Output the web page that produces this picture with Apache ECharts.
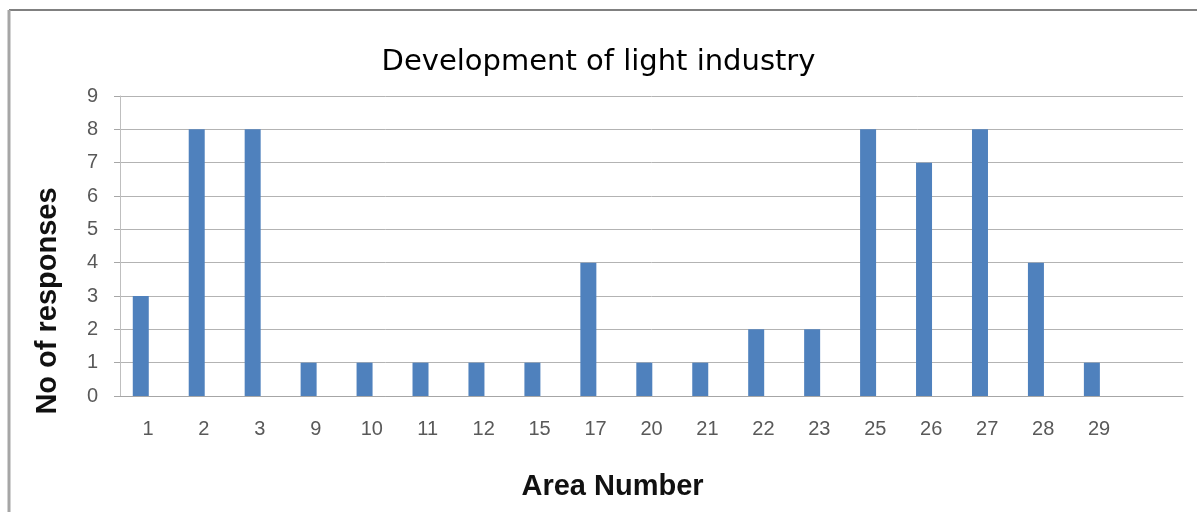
<!DOCTYPE html>
<html>
<head>
<meta charset="utf-8">
<script src="https://cdn.jsdelivr.net/npm/echarts@6/dist/echarts.min.js"></script>
<style>
html,body{margin:0;padding:0;background:#fff;}
#chart{width:1197px;height:512px;}
</style>
</head>
<body>
<div id="chart"></div>
<script>
// Data
const titleText = 'Development of light industry';
const xAxisTitle = 'Area Number';
const yAxisTitle = 'No of responses';
const areaNumbers = ['1','2','3','9','10','11','12','15','17','20','21','22','23','25','26','27','28','29'];
const responses   = [3, 8, 8, 1, 1, 1, 1, 1, 4, 1, 1, 2, 2, 8, 7, 8, 4, 1];
const yTicks = [0,1,2,3,4,5,6,7,8,9];

// The reference reserves one extra empty category slot at the right end
const axisCategories = areaNumbers.concat(['']);
const emptySeries = axisCategories.map(() => null);

const chart = echarts.init(document.getElementById('chart'));
chart.setOption({
  animation: false,
  backgroundColor: '#ffffff',
  title: {
    text: titleText,
    left: 'center',
    top: 43,
    textStyle: { fontFamily: 'DejaVu Sans', fontSize: 29, fontWeight: 'normal', color: '#000' }
  },
  graphic: [
    { type: 'line', shape: { x1: 9, y1: 10, x2: 1197, y2: 10 }, style: { stroke: '#808080', lineWidth: 2 }, silent: true },
    { type: 'line', shape: { x1: 9, y1: 10, x2: 9, y2: 512 }, style: { stroke: '#a6a6a6', lineWidth: 3 }, silent: true }
  ],
  grid: { left: 120, right: 14, top: 96, bottom: 116 },
  xAxis: {
    type: 'category',
    data: axisCategories,
    name: xAxisTitle,
    nameLocation: 'middle',
    nameGap: 76,
    nameTextStyle: { fontFamily: 'Liberation Sans', fontSize: 29, fontWeight: 'bold', color: '#111', padding: [0, 78, 0, 0] },
    axisLine: { lineStyle: { color: '#a6a6a6', width: 1 } },
    axisTick: { show: false },
    axisLabel: { margin: 23, fontFamily: 'Liberation Sans', fontSize: 20, color: '#595959' }
  },
  yAxis: {
    type: 'value',
    min: yTicks[0],
    max: yTicks[yTicks.length - 1],
    interval: 1,
    name: yAxisTitle,
    nameLocation: 'middle',
    nameGap: 58,
    nameRotate: 90,
    nameTextStyle: { fontFamily: 'Liberation Sans', fontSize: 29, fontWeight: 'bold', color: '#111', padding: [0, 110, 0, 0] },
    axisLine: { show: true, lineStyle: { color: '#bfbfbf', width: 1 } },
    axisTick: { show: true, length: 6, lineStyle: { color: '#a6a6a6' } },
    splitLine: { show: true, lineStyle: { color: '#b3b3b3', width: 1 } },
    axisLabel: { margin: 22, fontFamily: 'Liberation Sans', fontSize: 20, color: '#595959' }
  },
  series: [
    {
      type: 'bar',
      data: responses,
      barWidth: 16,
      barGap: '-10%',
      itemStyle: { color: '#4f81bd' }
    },
    {
      type: 'bar',
      data: emptySeries,
      barWidth: 16,
      itemStyle: { color: '#c0504d' }
    }
  ]
});
</script>
</body>
</html>
